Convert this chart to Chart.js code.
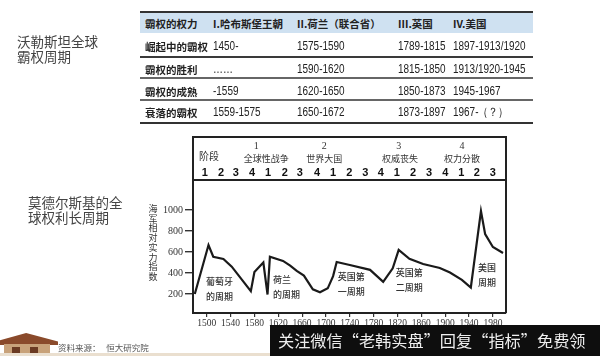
<!DOCTYPE html>
<html><head><meta charset="utf-8">
<script src="https://cdn.jsdelivr.net/npm/chart.js@4.4.1/dist/chart.umd.min.js"></script>
<style>
html,body{margin:0;padding:0;background:#fff;width:600px;height:356px;overflow:hidden;}
body{position:relative;font-family:'Noto Sans CJK SC',sans-serif;}
#c{position:absolute;left:0;top:0;}
.abs{position:absolute;white-space:nowrap;}
.side{font-size:13.5px;line-height:15px;color:#444;}
.tline{position:absolute;left:140px;width:393px;}
.cell{position:absolute;white-space:nowrap;transform-origin:0 50%;}
.hd{font-weight:700;font-size:10.5px;color:#222;transform:translateY(-50%);}
.num{font-family:'Liberation Sans',sans-serif;font-size:12px;color:#222;transform:translateY(-50%) scaleX(0.83);}
#ytitle{left:147px;top:204px;width:12px;font-size:9px;line-height:9.7px;color:#333;text-align:center;}
#wm{left:270px;top:325px;width:330px;height:31px;background:#0e0e0e;color:#eee;font-size:16.2px;line-height:31px;padding-left:8px;box-sizing:border-box;}
#src{left:58px;top:341px;font-size:8.5px;color:#555;}
</style></head>
<body>
<canvas id="c" width="600" height="356"></canvas>
<div class="abs side" style="left:17px;top:34px;">沃勒斯坦全球<br>霸权周期</div>
<div class="abs side" style="left:28px;top:195px;">莫德尔斯基的全<br>球权利长周期</div>
<div id="ytitle" class="abs"></div>
<div id="table"></div>
<div class="abs" style="left:0;top:333px;width:58px;height:23px;">
  <div style="position:absolute;left:0;top:0;width:58px;height:12px;background:#8a4a2b;clip-path:polygon(0 60%,45% 0,100% 70%,100% 100%,0 100%);"></div>
  <div style="position:absolute;left:4px;top:11px;width:46px;height:12px;background:#c8a27a;"></div>
  <div style="position:absolute;left:12px;top:14px;width:8px;height:9px;background:#6b3a22;"></div>
  <div style="position:absolute;left:30px;top:14px;width:8px;height:9px;background:#6b3a22;"></div>
</div>
<div style="position:absolute;left:0;top:353px;width:600px;height:3px;background:#eadfcf;"></div>
<div id="src" class="abs">资料来源：&nbsp;&nbsp;&nbsp;恒大研究院</div>
<div id="wm" class="abs">关注微信“老韩实盘”回复“指标”免费领</div>
<script>
// ---- table text ----
const tableHeader = ['霸权的权力','I.哈布斯堡王朝','II.荷兰（联合省）','III.英国','IV.美国'];
const tableRows = [
  ['崛起中的霸权','1450-','1575-1590','1789-1815','1897-1913/1920'],
  ['霸权的胜利','……','1590-1620','1815-1850','1913/1920-1945'],
  ['霸权的成熟','-1559','1620-1650','1850-1873','1945-1967'],
  ['衰落的霸权','1559-1575','1650-1672','1873-1897','1967-（？）']
];
const yAxisTitle = '海军相对实力指数';
// ---- chart data ----
const years = [1480,1503,1511,1528,1542,1574,1580,1595,1602,1606,1628,1640,1651,1663,1678,1690,1703,1712,1718,1740,1774,1796,1812,1822,1840,1863,1891,1908,1928,1943,1960,1967,1980,1997];
const navalIndex = [200,666,555,533,460,226,410,500,195,555,515,470,420,375,245,216,254,370,505,476,430,315,445,620,535,486,448,405,335,262,990,770,648,590];
const xTickLabels = [1500,1540,1580,1620,1660,1700,1740,1780,1820,1860,1900,1940,1980];
const yTickLabels = [200,400,600,800,1000];
const phaseNumbers = ['1','2','3','4','1','2','3','4','1','2','3','4','1','2','3','4','1','2','3'];
const phaseYears = [1497,1524,1549,1576,1603,1631,1656,1685,1712,1739,1766,1792,1819,1846,1873,1900,1927,1953,1980];
const eraNumbers = ['1','2','3','4'];
const eraNumberYears = [1583,1697,1822,1928];
const eraNames = ['全球性战争','世界大国','权威丧失','权力分散'];
const eraNameYears = [1600,1697,1824,1928];
const cycleNames = [['葡萄牙','的周期'],['荷兰','的周期'],['英国第','一周期'],['英国第','二周期'],['美国','周期']];
const cycleYears = [1499,1611,1720,1817,1955];
const cycleValues = [314,333,362,400,448];

document.getElementById('ytitle').innerHTML = yAxisTitle.split('').join('<br>');

// build table
(function(){
  const t = document.getElementById('table');
  const colX = [5,73,157,258,313];
  const rowsGeom = [[13,20,23],[33,23,46],[58,19,68.5],[79,20,90.5],[101,21,112]];
  const lines = [[11,2,'#333'],[56,2,'#3a3a3a'],[77,1.6,'#666'],[99,1.6,'#666'],[122,2,'#333']];
  let h = '';
  h += `<div class="tline" style="top:13px;height:20px;background:#cfe1f1;"></div>`;
  lines.forEach(l=>{h += `<div class="tline" style="top:${l[0]}px;height:${l[1]}px;background:${l[2]};"></div>`;});
  const all = [tableHeader].concat(tableRows);
  all.forEach((row,ri)=>{
    row.forEach((txt,ci)=>{
      const cls = (ri===0||ci===0)?'hd':'num';
      h += `<div class="cell ${cls}" style="left:${140+colX[ci]}px;top:${rowsGeom[ri][2]}px;">${txt}</div>`;
    });
  });
  t.innerHTML = h;
})();

const boxPlugin = {
  id:'box',
  afterDraw(chart){
    const {ctx, chartArea:a, scales:{x,y}} = chart;
    ctx.save();
    ctx.strokeStyle = '#222'; ctx.lineWidth = 2;
    ctx.beginPath();
    ctx.moveTo(a.left, a.top); ctx.lineTo(a.right, a.top); ctx.lineTo(a.right, a.bottom);
    ctx.moveTo(a.left, a.top+43); ctx.lineTo(a.right, a.top+43);
    ctx.stroke();
    ctx.textAlign='center'; ctx.textBaseline='middle';
    ctx.fillStyle='#333';
    ctx.font = '10px "Liberation Serif", serif';
    eraNumbers.forEach((t,i)=>ctx.fillText(t, x.getPixelForValue(eraNumberYears[i]), a.top+9));
    ctx.font = '9px "Noto Sans CJK SC", sans-serif';
    eraNames.forEach((t,i)=>ctx.fillText(t, x.getPixelForValue(eraNameYears[i]), a.top+22));
    ctx.font = '10px "Noto Sans CJK SC", sans-serif';
    ctx.fillText('阶段', x.getPixelForValue(1504), a.top+19);
    ctx.fillStyle='#111';
    ctx.font = 'bold 11px "Liberation Sans", sans-serif';
    phaseNumbers.forEach((t,i)=>ctx.fillText(t, x.getPixelForValue(phaseYears[i]), a.top+36));
    ctx.textAlign='left';
    ctx.fillStyle='#333';
    ctx.font = '500 9px "Noto Sans CJK SC", sans-serif';
    cycleNames.forEach((lines,i)=>{
      const px = x.getPixelForValue(cycleYears[i]);
      const py = y.getPixelForValue(cycleValues[i]);
      lines.forEach((ln,j)=>ctx.fillText(ln, px, py + j*15));
    });
    ctx.restore();
  }
};

new Chart(document.getElementById('c'), {
  type:'line',
  data:{datasets:[{
    data: years.map((yr,i)=>({x:yr, y:navalIndex[i]})),
    borderColor:'#1a1a1a', borderWidth:2.2, pointRadius:0, tension:0, fill:false
  }]},
  options:{
    responsive:false, animation:false, devicePixelRatio:1,
    layout:{padding:{left:153,right:94,top:137,bottom:23}},
    plugins:{legend:{display:false}, tooltip:{enabled:false}},
    scales:{
      x:{type:'linear', min:1477, max:2002,
        afterBuildTicks:s=>{s.ticks = xTickLabels.map(v=>({value:v}));},
        afterFit:s=>{s.height=20;},
        ticks:{font:{family:'"Liberation Serif", serif', size:9.5}, color:'#333', maxRotation:0, autoSkip:false, padding:1, callback:v=>String(v)},
        grid:{drawOnChartArea:false, drawTicks:true, tickLength:4, color:'#333', lineWidth:1.2},
        border:{color:'#222', width:2}
      },
      y:{type:'linear', min:19, max:1695,
        afterBuildTicks:s=>{s.ticks = yTickLabels.map(v=>({value:v}));},
        afterFit:s=>{s.width=40;},
        ticks:{font:{family:'"Liberation Serif", serif', size:10}, color:'#333', padding:2, callback:v=>String(v)},
        grid:{drawOnChartArea:false, drawTicks:true, tickLength:8, color:'#333', lineWidth:1.4},
        border:{color:'#222', width:2}
      }
    }
  },
  plugins:[boxPlugin]
});
</script>
</body></html>
